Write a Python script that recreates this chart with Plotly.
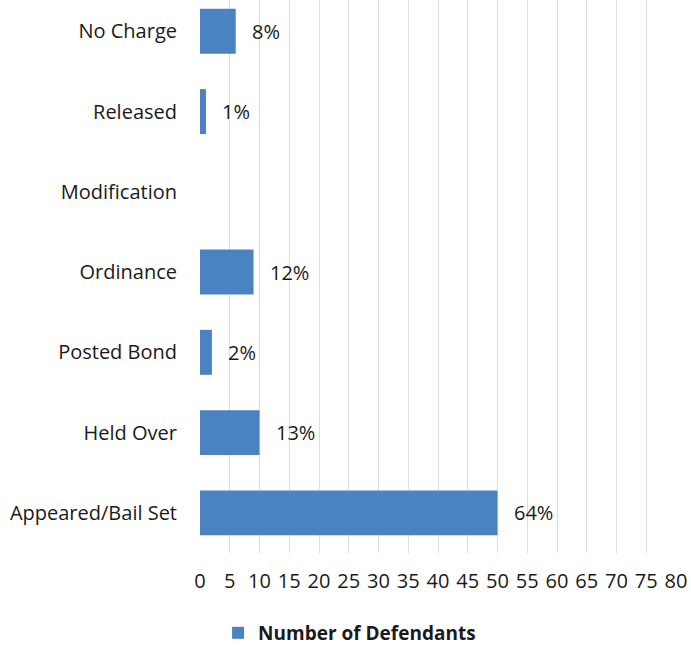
import plotly.graph_objects as go

categories = ["Appeared/Bail Set", "Held Over", "Posted Bond", "Ordinance",
              "Modification", "Released", "No Charge"]
defendants = [50, 10, 2, 9, 0, 1, 6]
pct_labels = ["64%", "13%", "2%", "12%", "", "1%", "8%"]
x_ticks = list(range(0, 85, 5))

FONT = "Open Sans"
BAR = "#4a82c2"
TXT = "#1a1a1a"

fig = go.Figure()
fig.add_trace(go.Bar(
    x=defendants, y=categories, orientation="h",
    marker=dict(color=BAR, line=dict(width=0)),
    name="Number of Defendants", showlegend=True,
))

for cat, val, lab in zip(categories, defendants, pct_labels):
    if lab:
        fig.add_annotation(x=val, y=cat, text=lab, showarrow=False,
                           xanchor="left", xshift=14,
                           font=dict(family=FONT, size=20, color=TXT))

fig.update_layout(
    width=691, height=648,
    margin=dict(l=200, r=15, t=0, b=95, autoexpand=False),
    paper_bgcolor="white", plot_bgcolor="white",
    bargap=0.44,
    font=dict(family=FONT, size=20, color=TXT),
    legend=dict(orientation="h", x=0.038, xanchor="left",
                yref="container", y=0.0525, yanchor="top",
                itemwidth=30,
                font=dict(family=FONT, size=19, color=TXT, weight="bold")),
)
fig.update_xaxes(range=[0, 80], tickvals=x_ticks, showgrid=True,
                 gridcolor="#dcdcdc", gridwidth=1, zeroline=False,
                 showline=False, ticklabelstandoff=14, automargin=False,
                 tickfont=dict(family=FONT, size=20, color=TXT))
fig.update_yaxes(categoryorder="array", categoryarray=categories,
                 range=[-0.5, 6.39], showgrid=False, zeroline=False,
                 ticklabelstandoff=22, automargin=False,
                 tickfont=dict(family=FONT, size=20, color=TXT))

fig.write_html("out.html", config={"displayModeBar": False},
               post_script="document.body.style.margin='0px';document.body.style.overflow='hidden';")
